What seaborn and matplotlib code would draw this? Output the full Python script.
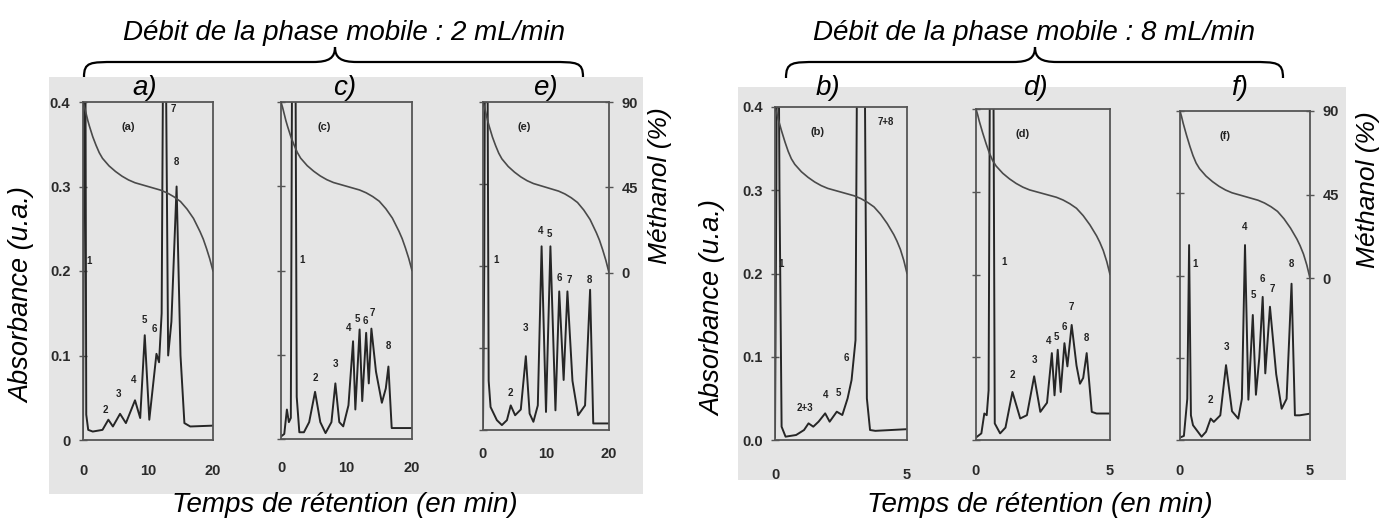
import numpy as np
import pandas as pd
import matplotlib
matplotlib.use("Agg")
import matplotlib.pyplot as plt
from matplotlib.patches import Rectangle, PathPatch
from matplotlib.path import Path
import seaborn as sns

# ---------------- data ----------------
# flow 2 mL/min panels (time in min, absorbance in a.u.)
a_time = [0.0, 0.15, 0.3, 0.5, 0.8, 1.5, 3.0, 3.9, 4.6, 5.7, 6.6, 8.0, 8.8, 9.5, 10.2, 11.3, 11.7,
          12.1, 12.5, 13.1, 13.6, 14.4, 15.0, 15.6, 16.5, 20.0]
a_abs = [0.003, 0.3, 0.7, 0.03, 0.012, 0.010, 0.012, 0.024, 0.016, 0.031, 0.020, 0.047, 0.026, 0.124,
         0.024, 0.102, 0.092, 0.15, 0.7, 0.10, 0.14, 0.30, 0.10, 0.020, 0.016, 0.017]
a_lbl = ['1', '2', '3', '4', '5', '6', '7', '8']
a_lbl_t = [0.9, 3.5, 5.4, 7.8, 9.4, 11.0, 13.9, 14.4]
a_lbl_y = [0.20, 0.024, 0.043, 0.059, 0.13, 0.12, 0.38, 0.317]

c_time = [0.0, 0.5, 0.9, 1.2, 1.5, 1.8, 2.1, 2.4, 2.8, 3.5, 4.3, 5.2, 6.0, 6.8, 7.7, 8.3, 8.9, 9.5,
          10.3, 11.0, 11.35, 12.0, 12.4, 13.0, 13.4, 13.8, 14.5, 15.4, 16.0, 16.4, 16.9, 20.0]
c_abs = [0.003, 0.006, 0.035, 0.02, 0.025, 0.7, 0.7, 0.05, 0.008, 0.008, 0.02, 0.056, 0.02, 0.007,
         0.02, 0.066, 0.02, 0.015, 0.04, 0.116, 0.035, 0.130, 0.045, 0.126, 0.066, 0.131, 0.08,
         0.043, 0.06, 0.086, 0.013, 0.013]
c_lbl = ['1', '2', '3', '4', '5', '6', '7', '8']
c_lbl_t = [3.2, 5.2, 8.3, 10.3, 11.6, 12.9, 14.0, 16.4]
c_lbl_y = [0.20, 0.061, 0.077, 0.12, 0.131, 0.128, 0.138, 0.098]

e_time = [0.0, 0.2, 0.4, 0.6, 0.9, 1.2, 2.2, 3.0, 3.8, 4.4, 5.1, 6.0, 6.8, 7.4, 8.0, 8.7, 9.3, 10.0,
          10.7, 11.5, 12.1, 12.8, 13.4, 14.2, 15.1, 16.2, 17.0, 17.5, 20.0]
e_abs = [0.003, 0.2, 0.7, 0.7, 0.06, 0.028, 0.012, 0.006, 0.012, 0.03, 0.018, 0.025, 0.09, 0.02,
         0.01, 0.03, 0.224, 0.022, 0.224, 0.024, 0.169, 0.061, 0.169, 0.06, 0.018, 0.03, 0.171,
         0.008, 0.008]
e_lbl = ['1', '2', '3', '4', '5', '6', '7', '8']
e_lbl_t = [2.1, 4.4, 6.8, 9.1, 10.6, 12.2, 13.7, 16.9]
e_lbl_y = [0.195, 0.033, 0.112, 0.23, 0.227, 0.173, 0.171, 0.171]

# flow 8 mL/min panels
b_time = [0.0, 0.05, 0.1, 0.17, 0.25, 0.4, 0.8, 1.1, 1.27, 1.45, 1.65, 1.9, 2.07, 2.34, 2.55, 2.75,
          2.9, 3.05, 3.15, 3.35, 3.48, 3.6, 3.8, 5.0]
b_abs = [0.003, 0.3, 0.7, 0.3, 0.016, 0.004, 0.006, 0.012, 0.02, 0.016, 0.022, 0.032, 0.022, 0.034,
         0.03, 0.05, 0.072, 0.12, 0.7, 0.7, 0.05, 0.012, 0.011, 0.013]
b_lbl = ['1', '2+3', '4', '5', '6', '7+8']
b_lbl_t = [0.22, 1.14, 1.9, 2.4, 2.72, 4.18]
b_lbl_y = [0.20, 0.026, 0.042, 0.044, 0.086, 0.37]

d_time = [0.0, 0.2, 0.31, 0.4, 0.47, 0.55, 0.62, 0.7, 0.9, 1.1, 1.36, 1.65, 1.9, 2.17, 2.4, 2.65,
          2.83, 2.93, 3.05, 3.16, 3.3, 3.41, 3.57, 3.75, 3.88, 4.0, 4.13, 4.32, 4.5, 5.0]
d_abs = [0.003, 0.008, 0.032, 0.03, 0.06, 0.7, 0.7, 0.02, 0.008, 0.015, 0.058, 0.026, 0.03, 0.077,
         0.034, 0.045, 0.105, 0.054, 0.109, 0.058, 0.117, 0.089, 0.139, 0.09, 0.068, 0.075, 0.105,
         0.034, 0.032, 0.032]
d_lbl = ['1', '2', '3', '4', '5', '6', '7', '8']
d_lbl_t = [1.03, 1.36, 2.17, 2.72, 3.0, 3.28, 3.57, 4.13]
d_lbl_y = [0.203, 0.066, 0.085, 0.107, 0.113, 0.125, 0.149, 0.111]

f_time = [0.0, 0.15, 0.28, 0.35, 0.42, 0.5, 0.83, 1.0, 1.18, 1.3, 1.55, 1.77, 2.0, 2.24, 2.38, 2.5,
          2.63, 2.8, 2.92, 3.05, 3.18, 3.28, 3.46, 3.7, 3.91, 4.1, 4.29, 4.42, 4.6, 5.0]
f_abs = [0.003, 0.005, 0.05, 0.237, 0.03, 0.018, 0.004, 0.01, 0.026, 0.022, 0.03, 0.091, 0.035,
         0.026, 0.05, 0.237, 0.049, 0.152, 0.055, 0.1, 0.174, 0.081, 0.162, 0.08, 0.038, 0.05, 0.19,
         0.03, 0.03, 0.032]
f_lbl = ['1', '2', '3', '4', '5', '6', '7', '8']
f_lbl_t = [0.58, 1.18, 1.77, 2.5, 2.82, 3.18, 3.56, 4.29]
f_lbl_y = [0.202, 0.036, 0.101, 0.247, 0.164, 0.184, 0.171, 0.202]

# methanol gradient (%)
grad2_time = [0, 0.25, 0.5, 0.75, 1, 1.5, 2, 2.5, 3, 4, 5, 6, 7, 8, 10, 12, 13, 14, 15, 16, 17,
              18, 18.5, 19, 19.5, 20]
grad2_meoh = [90, 87, 83.5, 80, 77, 71.5, 67, 63, 60, 56, 53, 50.5, 48.5, 47, 45, 43, 41.5, 39.5,
              37, 33, 28, 21, 17, 12, 6.5, 0]
grad8_time = [0, 0.06, 0.12, 0.19, 0.25, 0.38, 0.5, 0.62, 0.75, 1.0, 1.25, 1.5, 1.75, 2.0, 2.5,
              3.0, 3.25, 3.5, 3.75, 4.0, 4.25, 4.5, 4.62, 4.75, 4.88, 5.0]
grad8_meoh = [90, 87, 83.5, 80, 77, 71, 66, 62, 59, 55, 52, 49.5, 47.5, 46, 44, 42, 40.5, 38.5,
              36, 32, 27, 21, 17.5, 13, 7, 0]

abs_ticks = [0.0, 0.1, 0.2, 0.3, 0.4]
abs_ticklabels_2 = ['0', '0.1', '0.2', '0.3', '0.4']
abs_ticklabels_8 = ['0.0', '0.1', '0.2', '0.3', '0.4']
meoh_ticks = [0, 45, 90]
time_ticks_2 = [0, 10, 20]
time_ticks_8 = [0, 5]

# ---------------- figure ----------------
sns.set_style("white")
plt.rcParams['font.family'] = ['Liberation Sans', 'DejaVu Sans']

W, H = 1380, 519
fig = plt.figure(figsize=(W / 100, H / 100), dpi=100)


def fx(x):
    return x / W


def fy(y):
    return 1 - y / H


GREY = '#e5e5e5'
for (x0, y0, x1, y1) in [(49, 77, 643, 494), (738, 87, 1346, 480)]:
    fig.patches.append(Rectangle((fx(x0), fy(y1)), (x1 - x0) / W, (y1 - y0) / H,
                                 transform=fig.transFigure, facecolor=GREY,
                                 edgecolor='none', zorder=-10))

TRACE = '#262626'
FRAME = '#555555'
TICKFONT = dict(fontsize=10.5, fontweight='bold', color='#2a2a2a')

panels = [
    dict(t=a_time, y=a_abs, lt=a_lbl_t, ly=a_lbl_y, lb=a_lbl, gt=grad2_time, gm=grad2_meoh,
         box=(83, 102, 213, 440), xt=time_ticks_2, yl=abs_ticklabels_2, right=False,
         tag='(a)', tagx=0.3, mlo=-90, xpad=11.3),
    dict(t=c_time, y=c_abs, lt=c_lbl_t, ly=c_lbl_y, lb=c_lbl, gt=grad2_time, gm=grad2_meoh,
         box=(281, 102, 412, 439), xt=time_ticks_2, yl=None, right=False,
         tag='(c)', tagx=0.28, mlo=-90, xpad=10),
    dict(t=e_time, y=e_abs, lt=e_lbl_t, ly=e_lbl_y, lb=e_lbl, gt=grad2_time, gm=grad2_meoh,
         box=(483, 102, 609, 430), xt=time_ticks_2, yl=None, right=True,
         tag='(e)', tagx=0.28, mlo=-83, xpad=6.5),
    dict(t=b_time, y=b_abs, lt=b_lbl_t, ly=b_lbl_y, lb=b_lbl, gt=grad8_time, gm=grad8_meoh,
         box=(775, 107, 907, 440), xt=time_ticks_8, yl=abs_ticklabels_8, right=False,
         tag='(b)', tagx=0.27, mlo=-90, xpad=14.5),
    dict(t=d_time, y=d_abs, lt=d_lbl_t, ly=d_lbl_y, lb=d_lbl, gt=grad8_time, gm=grad8_meoh,
         box=(976, 109, 1110, 440), xt=time_ticks_8, yl=None, right=False,
         tag='(d)', tagx=0.3, mlo=-90, xpad=11.3),
    dict(t=f_time, y=f_abs, lt=f_lbl_t, ly=f_lbl_y, lb=f_lbl, gt=grad8_time, gm=grad8_meoh,
         box=(1180, 111, 1310, 440), xt=time_ticks_8, yl=None, right=True,
         tag='(f)', tagx=0.3, mlo=-87, xpad=11.3),
]

for p in panels:
    x0, y0, x1, y1 = p['box']
    ax = fig.add_axes([fx(x0), fy(y1), (x1 - x0) / W, (y1 - y0) / H])
    ax.patch.set_alpha(0)
    df = pd.DataFrame({'time': p['t'], 'absorbance': p['y']})
    sns.lineplot(data=df, x='time', y='absorbance', ax=ax, color=TRACE, linewidth=1.4,
                 estimator=None, sort=False)
    xmax = p['xt'][-1]
    ax.set_xlim(0, xmax)
    ax.set_ylim(0, 0.4)
    ax.set_xlabel('')
    ax.set_ylabel('')
    for s in ax.spines.values():
        s.set_color(FRAME)
        s.set_linewidth(1.3)
    ax.set_xticks(p['xt'])
    ax.set_xticklabels([str(v) for v in p['xt']], **TICKFONT)
    ax.set_yticks(abs_ticks)
    if p['yl'] is not None:
        ax.set_yticklabels(p['yl'], **TICKFONT)
    else:
        ax.set_yticklabels([])
    ax.tick_params(axis='x', direction='out', length=6, width=1.0, color=FRAME, pad=p['xpad'])
    ax.tick_params(axis='y', direction='inout', length=6, width=1.0, color=FRAME, pad=6)
    # peak numbers
    for lab, tt, yy in zip(p['lb'], p['lt'], p['ly']):
        ax.text(tt, yy + 0.006, lab, ha='center', va='bottom', fontsize=7,
                fontweight='bold', color='#222222')
    ax.text(p['tagx'] * xmax + 0.05 * xmax, 0.37, p['tag'], ha='center', va='center',
            fontsize=8, fontweight='bold', color='#222222')

    # methanol gradient on the second scale
    ax2 = ax.twinx()
    ax2.patch.set_alpha(0)
    gdf = pd.DataFrame({'time': p['gt'], 'methanol': p['gm']})
    sns.lineplot(data=gdf, x='time', y='methanol', ax=ax2, color='#4a4a4a', linewidth=1.2,
                 estimator=None, sort=False)
    ax2.set_ylim(p['mlo'], 90)
    ax2.set_xlim(0, xmax)
    ax2.set_ylabel('')
    for s in ax2.spines.values():
        s.set_visible(False)
    if p['right']:
        ax2.set_yticks(meoh_ticks)
        ax2.set_yticklabels([str(v) for v in meoh_ticks], **TICKFONT)
        ax2.tick_params(axis='y', direction='inout', length=6, width=1.0, color=FRAME, pad=6)
    else:
        ax2.set_yticks([])

# ---------------- texts ----------------
IT = dict(style='italic', color='black', ha='center', va='center')
fig.text(fx(344), fy(33), 'Débit de la phase mobile : 2 mL/min', fontsize=20, **IT)
fig.text(fx(1034), fy(33), 'Débit de la phase mobile : 8 mL/min', fontsize=20, **IT)

for lab, xc in [('a)', 145), ('c)', 345), ('e)', 545), ('b)', 828), ('d)', 1035), ('f)', 1240)]:
    fig.text(fx(xc), fy(88), lab, fontsize=20, **IT)

fig.text(fx(22), fy(295), 'Absorbance (u.a.)', fontsize=19.5, rotation=90, **IT)
fig.text(fx(713), fy(308), 'Absorbance (u.a.)', fontsize=19.5, rotation=90, **IT)
fig.text(fx(660), fy(186), 'Méthanol (%)', fontsize=19, rotation=90, **IT)
fig.text(fx(1368), fy(190), 'Méthanol (%)', fontsize=19, rotation=90, **IT)
fig.text(fx(345), fy(505), 'Temps de rétention (en min)', fontsize=20, **IT)
fig.text(fx(1040), fy(505), 'Temps de rétention (en min)', fontsize=20, **IT)


# ---------------- braces ----------------
def brace(xl, xr, xm, y_end, y_bar, y_tip):
    r = 22
    pts = [(xl, y_end),
           (xl, y_bar), (xl + 6, y_bar), (xl + r + 10, y_bar),
           (xm - r, y_bar),
           (xm - 6, y_bar), (xm, y_bar - 4), (xm, y_tip),
           (xm, y_bar - 4), (xm + 6, y_bar), (xm + r, y_bar),
           (xr - r - 10, y_bar),
           (xr - 6, y_bar), (xr, y_bar), (xr, y_end)]
    codes = [Path.MOVETO,
             Path.CURVE4, Path.CURVE4, Path.CURVE4,
             Path.LINETO,
             Path.CURVE4, Path.CURVE4, Path.CURVE4,
             Path.CURVE4, Path.CURVE4, Path.CURVE4,
             Path.LINETO,
             Path.CURVE4, Path.CURVE4, Path.CURVE4]
    verts = [(fx(x), fy(y)) for x, y in pts]
    fig.patches.append(PathPatch(Path(verts, codes), transform=fig.transFigure,
                                 facecolor='none', edgecolor='black', linewidth=1.6))


brace(84, 583, 335, 77, 62, 47)
brace(786, 1283, 1035, 78, 62, 47)

fig.savefig('out.png', dpi=100)
